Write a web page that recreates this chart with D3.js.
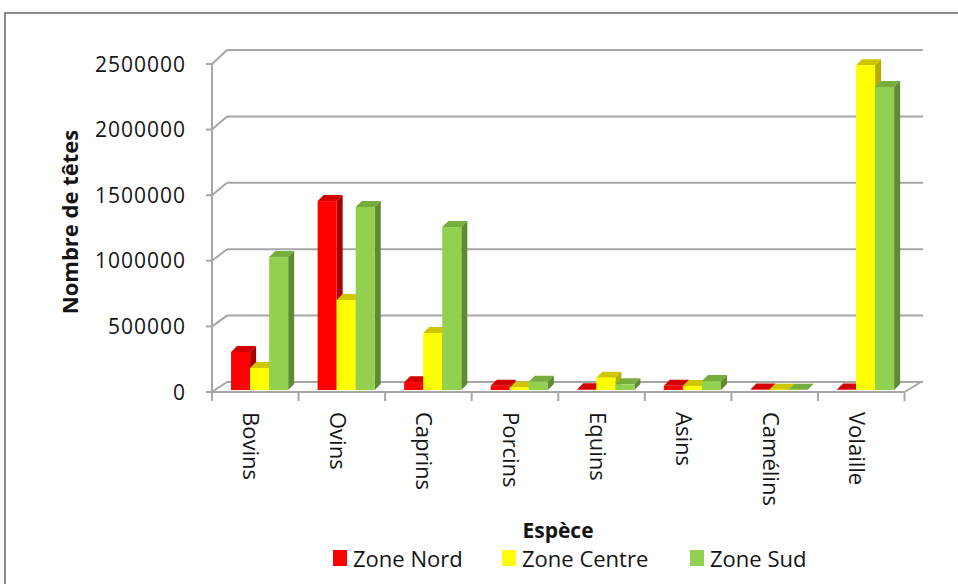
<!DOCTYPE html>
<html><head><meta charset="utf-8">
<script src="https://cdn.jsdelivr.net/npm/d3@7"></script>
<style>
html,body{margin:0;padding:0;background:#fff;}
svg{display:block;}
text{font-family:"Open Sans","Noto Sans",sans-serif;fill:#141414;}
</style></head>
<body>
<svg id="chart" width="958" height="584"></svg>
<script>
const categories = ["Bovins","Ovins","Caprins","Porcins","Equins","Asins","Camélins","Volaille"];
const seriesNames = ["Zone Nord","Zone Centre","Zone Sud"];
const zoneNord   = [290000,1440000,60000,33000,5000,33000,3000,4000];
const zoneCentre = [168000,686000,434000,20000,94000,30000,2000,2475000];
const zoneSud    = [1013000,1395000,1242000,63000,43000,68000,2000,2310000];
const yTicks = [0,500000,1000000,1500000,2000000,2500000];
const yTitle = "Nombre de têtes";
const xTitle = "Espèce";

const series = [zoneNord, zoneCentre, zoneSud];
const colors = [
  {front:"#FF0000", top:"#D20000", side:"#A80000"},
  {front:"#FFFF00", top:"#CFC600", side:"#B5AE00"},
  {front:"#92D050", top:"#76AE3E", side:"#5E8A32"}
];

const svg = d3.select("#chart");
const grid = "#A6A6A6";

// outer frame
svg.append("rect").attr("x",5).attr("y",13).attr("width",1100).attr("height",1000)
  .attr("fill","none").attr("stroke","#8C8C8C").attr("stroke-width",2);

const x = d3.scaleBand().domain(categories).range([212, 904.5]).paddingInner(0).paddingOuter(0);
const yFront = d3.scaleLinear().domain([0,2500000]).range([392,64]);
const yBack  = d3.scaleLinear().domain([0,2500000]).range([382,50]);
const backX0 = 227, backX1 = 923;
const frontX0 = 212, frontX1 = x.range()[1];

// gridlines on back wall + diagonal connectors
const g = svg.append("g");
yTicks.forEach(t => {
  g.append("line").attr("x1",backX0).attr("x2",backX1).attr("y1",yBack(t)).attr("y2",yBack(t))
    .attr("stroke",grid).attr("stroke-width",2);
  g.append("line").attr("x1",frontX0).attr("x2",backX0).attr("y1",yFront(t)).attr("y2",yBack(t))
    .attr("stroke",grid).attr("stroke-width",2);
  g.append("line").attr("x1",frontX0-6).attr("x2",frontX0).attr("y1",yFront(t)).attr("y2",yFront(t))
    .attr("stroke",grid).attr("stroke-width",2);
});
// front vertical axis
g.append("line").attr("x1",frontX0).attr("x2",frontX0).attr("y1",yFront(2500000)).attr("y2",yFront(0)+8)
  .attr("stroke",grid).attr("stroke-width",2);
// floor front edge and right edge
g.append("line").attr("x1",frontX0).attr("x2",frontX1).attr("y1",yFront(0)).attr("y2",yFront(0))
  .attr("stroke",grid).attr("stroke-width",2);
g.append("line").attr("x1",frontX1).attr("x2",backX1-2).attr("y1",yFront(0)).attr("y2",yBack(0))
  .attr("stroke",grid).attr("stroke-width",2);
// x ticks
categories.concat(["__end"]).forEach((c,i) => {
  const xx = i < categories.length ? x(c) : frontX1;
  g.append("line").attr("x1",xx).attr("x2",xx).attr("y1",yFront(0)).attr("y2",yFront(0)+9)
    .attr("stroke",grid).attr("stroke-width",2);
});

// y tick labels
yTicks.forEach(t => {
  svg.append("text").attr("x",186).attr("y",yFront(t)).attr("dy","0.36em")
    .attr("text-anchor","end").style("font-size","21px").style("letter-spacing","1px")
    .text(t);
});

// bars
const bw = x.bandwidth()*0.22, off = x.bandwidth()*0.22, dX = 6, dY = -6;
const yBar = v => yFront(v) - 2;
const bars = svg.append("g");
categories.forEach((c, ci) => {
  series.forEach((s, si) => {
    const v = s[ci];
    const x0 = x(c) + off + si*bw;
    const yt = yBar(v), yb = yBar(0);
    const col = colors[si];
    bars.append("polygon")
      .attr("points",[[x0,yt],[x0+dX,yt+dY],[x0+bw+dX,yt+dY],[x0+bw,yt]].map(p=>p.join(",")).join(" "))
      .attr("fill",col.top);
    bars.append("polygon")
      .attr("points",[[x0+bw,yt],[x0+bw+dX,yt+dY],[x0+bw+dX,yb+dY],[x0+bw,yb]].map(p=>p.join(",")).join(" "))
      .attr("fill",col.side);
    bars.append("rect").attr("x",x0).attr("y",yt).attr("width",bw).attr("height",Math.max(0,yb-yt))
      .attr("fill",col.front);
  });
});

// x labels
categories.forEach(c => {
  const cx = x(c) + x.bandwidth()/2 - 4;
  svg.append("text").attr("transform",`translate(${cx},412) rotate(90)`)
    .attr("dy","0.36em").attr("text-anchor","start").style("font-size","22px").text(c);
});

// y title
svg.append("text").attr("transform","translate(70,222) rotate(-90)")
  .attr("text-anchor","middle").attr("dy","0.36em")
  .style("font-size","22px").style("font-weight","bold").text(yTitle);

// x title
svg.append("text").attr("x",558).attr("y",538).attr("text-anchor","middle")
  .style("font-size","21px").style("font-weight","bold").text(xTitle);

// legend
const legX = [333, 502, 690];
seriesNames.forEach((n,i) => {
  svg.append("rect").attr("x",legX[i]).attr("y",550).attr("width",14).attr("height",16).attr("fill",colors[i].front);
  svg.append("text").attr("x",legX[i]+20).attr("y",567).style("font-size","22px").text(n);
});
</script>
</body></html>
